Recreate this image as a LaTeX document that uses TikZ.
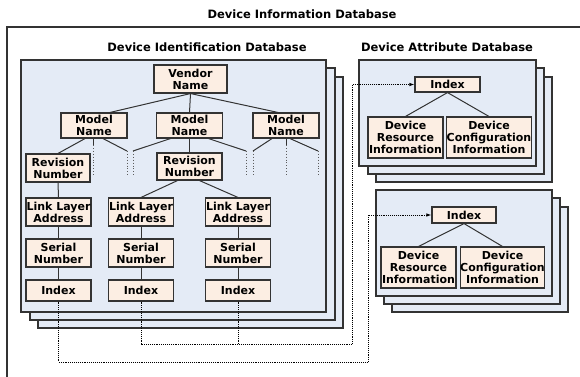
\documentclass[tikz,border=0pt]{standalone}
\usepackage{fontspec}
\setmainfont{DejaVu Sans}
\usetikzlibrary{arrows.meta}
\definecolor{panelfill}{HTML}{E4EBF6}
\definecolor{boxfill}{HTML}{FCEEE3}
\definecolor{edge}{HTML}{333333}
\begin{document}
\begin{tikzpicture}[x=1pt,y=-1pt,
  panel/.style={draw=edge,line width=1.1pt,fill=panelfill},
  item/.style={draw=edge,line width=1.1pt,fill=boxfill,align=center,inner sep=0pt,
    font=\bfseries\fontsize{11}{11.8}\selectfont},
  title/.style={font=\bfseries\fontsize{11.5}{13}\selectfont,inner sep=0pt},
  tree/.style={draw=edge,line width=1pt},
  stub/.style={draw=edge!80,line width=0.9pt,dotted},
  link/.style={draw=black,line width=0.9pt,densely dotted},
  tip/.style={-{Latex[length=5pt,width=3.5pt]}}]
\useasboundingbox (0,0) rectangle (580,376);
\fill[white] (0,0) rectangle (580,376);
% outer frame
\draw[edge,line width=1.2pt] (7,400) -- (7,27) -- (600,27);
\node[title] (t0) at (302,14) {Device Information Database};
\node[title] (t1) at (207,47) {Device Identification Database};
\node[title] (t2) at (447,47) {Device Attribute Database};
% panel stacks
\draw[panel] (38,77) rectangle (343,328);
\draw[panel] (30,68) rectangle (335,320);
\draw[panel] (21,60) rectangle (326,312);
\draw[panel] (376,77) rectangle (552,182);
\draw[panel] (368,68) rectangle (544,174);
\draw[panel] (359,60) rectangle (536,166);
\draw[panel] (392,207) rectangle (568,312);
\draw[panel] (384,198) rectangle (560,304);
\draw[panel] (376,190) rectangle (552,296);
% identification tree
\node[item,minimum width=73pt,minimum height=28pt] (vendor) at (190.5,79) {Vendor\\Name};
\node[item,minimum width=66pt,minimum height=25pt] (m1) at (94,125.5) {Model\\Name};
\node[item,minimum width=66pt,minimum height=25pt] (m2) at (189.5,125.5) {Model\\Name};
\node[item,minimum width=66pt,minimum height=25pt] (m3) at (286,125.5) {Model\\Name};
\node[item,minimum width=64pt,minimum height=28pt] (r1) at (58,168) {Revision\\Number};
\node[item,minimum width=65pt,minimum height=27pt] (r2) at (189.5,166.5) {Revision\\Number};
\foreach \n/\x in {1/58.5,2/141,3/238}{
  \node[item,minimum width=65pt,minimum height=28pt] (l\n) at (\x,212) {Link Layer\\Address};
  \node[item,minimum width=65pt,minimum height=28pt] (s\n) at (\x,253) {Serial\\Number};
  \node[item,minimum width=65pt,minimum height=21pt] (i\n) at (\x,290.5) {Index};
  \draw[tree] (l\n) -- (s\n);
  \draw[tree] (s\n) -- (i\n);
}
\draw[tree] (vendor.south) -- ([xshift=16pt]m1.north);
\draw[tree] (vendor.south) -- (m2.north);
\draw[tree] (vendor.south) -- ([xshift=-8pt]m3.north);
\draw[tree] ([xshift=-9pt]m1.south) -- (r1.north);
\draw[tree] (m2.south) -- (r2.north);
\draw[tree] (r1.south) -- (l1.north);
\draw[tree] ([xshift=-12pt]r2.south) -- (l2.north);
\draw[tree] ([xshift=10pt]r2.south) -- (l3.north);
% dotted stubs
\coordinate (a1) at (127,151);
\coordinate (a2) at (133,151);
\coordinate (a3) at (246,151);
\coordinate (a4) at (253,151);
\coordinate (a5) at (318,151);
\draw[tree] ([xshift=9pt]m1.south) -- (a1);
\draw[tree] ([xshift=-19pt]m2.south) -- (a2);
\draw[tree] ([xshift=19pt]m2.south) -- (a3);
\draw[tree] ([xshift=-14pt]m3.south) -- (a4);
\draw[tree] ([xshift=4pt]m3.south) -- (a5);
\foreach \c in {a1,a2,a3,a4,a5}{
  \draw[stub] (\c) -- ++(0,25);
}
\coordinate (c1) at (93,145);
\coordinate (c3) at (286,145);
\draw[tree] (m1.south -| c1) -- (c1);
\draw[tree] (m3.south -| c3) -- (c3);
\draw[stub] (c1) -- ++(0,30);
\draw[stub] (c3) -- ++(0,30);
% attribute database 1
\node[item,minimum width=65pt,minimum height=15pt] (x1) at (447.5,84.5) {Index};
\node[item,minimum width=75pt,minimum height=41pt] (dr1) at (405.5,137.5) {Device\\Resource\\Information};
\node[item,minimum width=84pt,minimum height=41pt] (dc1) at (489,137.5) {Device\\Configuration\\Information};
\draw[tree] (x1.south) -- (dr1.north);
\draw[tree] (x1.south) -- (dc1.north);
% attribute database 2
\node[item,minimum width=64pt,minimum height=16pt] (x2) at (464,215) {Index};
\node[item,minimum width=75pt,minimum height=41pt] (dr2) at (418.5,267.5) {Device\\Resource\\Information};
\node[item,minimum width=83pt,minimum height=41pt] (dc2) at (502.5,267.5) {Device\\Configuration\\Information};
\draw[tree] (x2.south) -- (dr2.north);
\draw[tree] (x2.south) -- (dc2.north);
% index links
\coordinate (k1) at (368,362);
\coordinate (k2) at (352,344);
\draw[link] (i1.south) |- (k1);
\draw[link,tip] (k1) |- (x2.west);
\draw[link] (i2.south) |- (k2);
\draw[link,tip] (k2) |- (x1.west);
\draw[link] (i3.south) -- (i3.south |- k2);
\end{tikzpicture}
\end{document}
